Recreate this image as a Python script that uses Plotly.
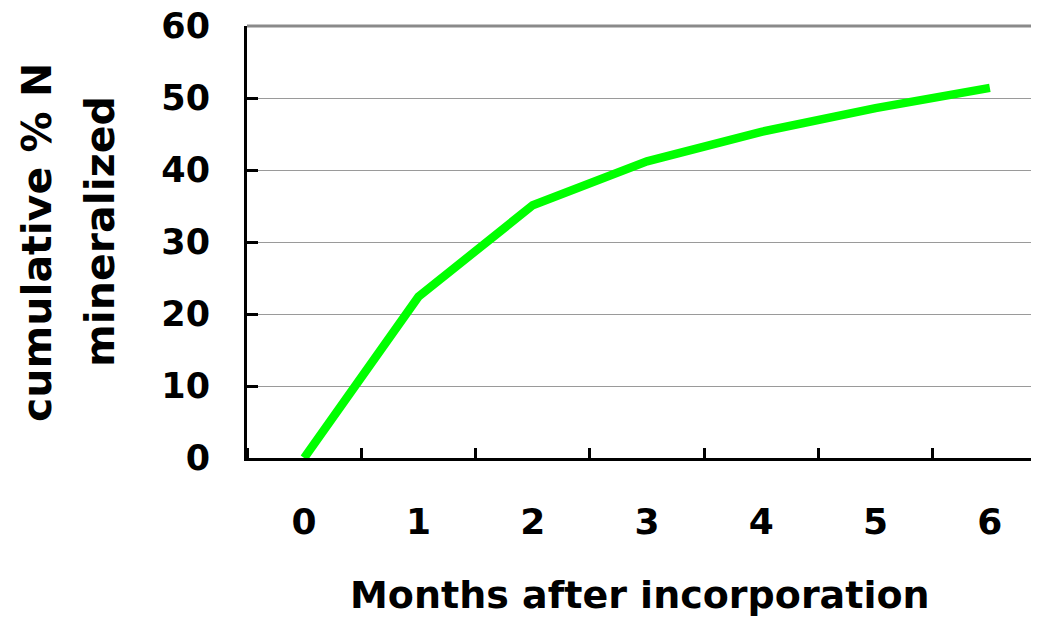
import plotly.graph_objects as go

months = [0, 1, 2, 3, 4, 5, 6]
month_labels = ["0", "1", "2", "3", "4", "5", "6"]
cum_n = [0.0, 22.4, 35.1, 41.2, 45.3, 48.6, 51.4]
y_ticks = [0, 10, 20, 30, 40, 50, 60]

FONT = "DejaVu Sans"

fig = go.Figure()
fig.add_trace(go.Scatter(
    x=months, y=cum_n, mode="lines",
    line=dict(color="#00FF00", width=8.5),
    showlegend=False, hoverinfo="skip",
))

# page body has an 8px margin, so the figure is sized/offset to compensate
fig.update_layout(
    width=1031, height=609,
    margin=dict(l=239, r=0, t=18, b=159, autoexpand=False),
    plot_bgcolor="white", paper_bgcolor="white",
    font=dict(family=FONT, color="black"),
    xaxis=dict(
        range=[-0.5, 6.43], tickvals=months, ticktext=month_labels,
        ticks="", showgrid=False, zeroline=False, automargin=False,
        showline=True, linecolor="black", linewidth=3,
        tickfont=dict(family=FONT, size=36, color="black", weight="bold"),
        ticklabelstandoff=30, ticklabeloverflow="allow",
        minor=dict(tick0=0.5, dtick=1, ticks="inside", ticklen=10,
                   tickwidth=3, tickcolor="black", showgrid=False),
    ),
    yaxis=dict(
        range=[0, 60.001], tickvals=y_ticks, automargin=False,
        ticks="inside", ticklen=11, tickwidth=3, tickcolor="black",
        showgrid=True, gridcolor="#9a9a9a", gridwidth=1.2,
        zeroline=False, showline=True, linecolor="black", linewidth=3,
        tickfont=dict(family=FONT, size=35, color="black", weight="bold"),
        ticklabelstandoff=27, ticklabeloverflow="allow",
    ),
    shapes=[dict(type="line", xref="paper", yref="paper", x0=0, x1=1, y0=1, y1=1,
                 line=dict(color="#8a8a8a", width=3), layer="above")],
    annotations=[
        dict(text="Months after incorporation", xref="paper", yref="paper",
             x=(640 - 247) / 792, y=-(595 - 458) / 432, xanchor="center", yanchor="middle",
             showarrow=False, font=dict(family=FONT, size=38, color="black", weight="bold")),
        dict(text="cumulative % N", xref="paper", yref="paper",
             x=-(247 - 37) / 792, y=(458 - 243) / 432, xanchor="center", yanchor="middle",
             textangle=-90, showarrow=False,
             font=dict(family=FONT, size=41, color="black", weight="bold")),
        dict(text="mineralized", xref="paper", yref="paper",
             x=-(247 - 100) / 792, y=(458 - 232) / 432, xanchor="center", yanchor="middle",
             textangle=-90, showarrow=False,
             font=dict(family=FONT, size=41, color="black", weight="bold")),
    ],
)

fig.write_html("out.html")
